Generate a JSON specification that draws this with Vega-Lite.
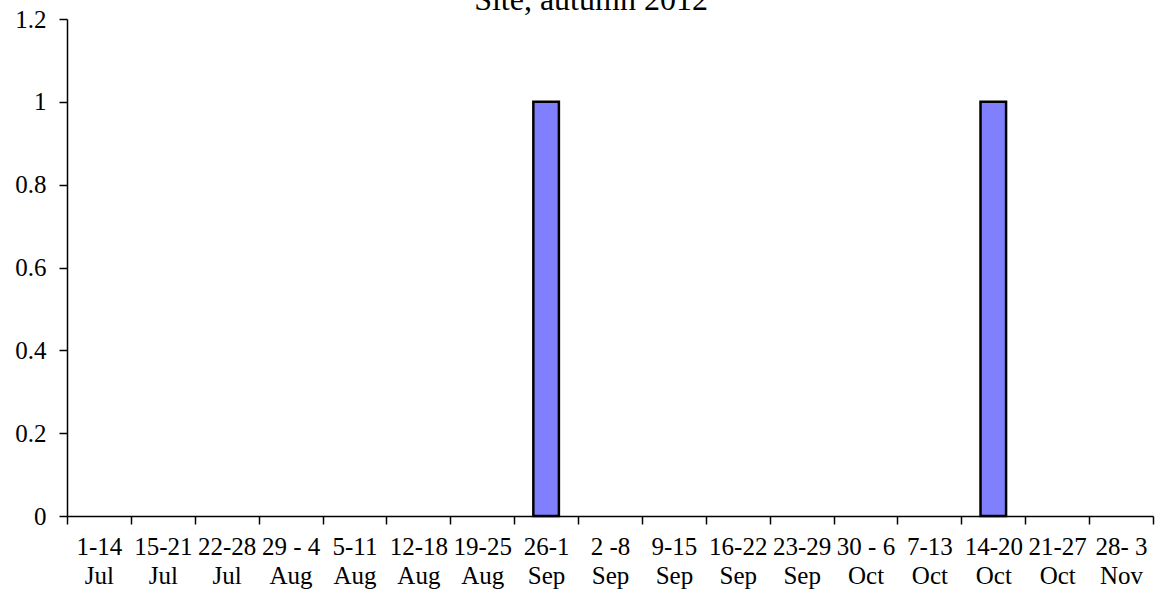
{
  "$schema": "https://vega.github.io/schema/vega-lite/v6.json",
  "width": 1086,
  "height": 497,
  "autosize": "none",
  "padding": {"left": 67, "top": 19, "right": 3, "bottom": 78},
  "background": "white",
  "title": {
    "text": "Site, autumn 2012",
    "font": "Liberation Serif",
    "fontSize": 32,
    "fontWeight": "normal",
    "color": "black",
    "anchor": "middle",
    "dx": -19,
    "offset": -10
  },
  "config": {
    "view": {"stroke": null},
    "axis": {
      "labelFont": "Liberation Serif",
      "labelFontSize": 25,
      "labelColor": "black",
      "domainColor": "black",
      "domainWidth": 1.5,
      "tickColor": "black",
      "tickWidth": 1.5,
      "tickSize": 8,
      "grid": false,
      "title": null
    }
  },
  "data": {
    "values": [
      {"week": "1-14|Jul", "count": 0},
      {"week": "15-21|Jul", "count": 0},
      {"week": "22-28|Jul", "count": 0},
      {"week": "29 - 4|Aug", "count": 0},
      {"week": "5-11|Aug", "count": 0},
      {"week": "12-18|Aug", "count": 0},
      {"week": "19-25|Aug", "count": 0},
      {"week": "26-1|Sep", "count": 1},
      {"week": "2 -8|Sep", "count": 0},
      {"week": "9-15|Sep", "count": 0},
      {"week": "16-22|Sep", "count": 0},
      {"week": "23-29|Sep", "count": 0},
      {"week": "30 - 6|Oct", "count": 0},
      {"week": "7-13|Oct", "count": 0},
      {"week": "14-20|Oct", "count": 1},
      {"week": "21-27|Oct", "count": 0},
      {"week": "28- 3|Nov", "count": 0}
    ]
  },
  "mark": {"type": "bar", "fill": "#8080FF", "stroke": "black", "strokeWidth": 2.5, "width": {"band": 0.4}},
  "encoding": {
    "x": {
      "field": "week",
      "type": "nominal",
      "sort": null,
      "scale": {"paddingInner": 0, "paddingOuter": 0},
      "axis": {
        "labelAngle": 0,
        "labelExpr": "split(datum.label, '|')",
        "labelLineHeight": 29,
        "labelPadding": 10,
        "tickBand": "extent",
        "labelOverlap": false,
        "labelBound": false
      }
    },
    "y": {
      "field": "count",
      "type": "quantitative",
      "scale": {"domain": [0, 1.2], "nice": false},
      "axis": {"values": [0, 0.2, 0.4, 0.6, 0.8, 1, 1.2], "labelPadding": 13, "format": "~g"}
    },
    "strokeOpacity": {"condition": {"test": "datum.count > 0", "value": 1}, "value": 0}
  }
}
